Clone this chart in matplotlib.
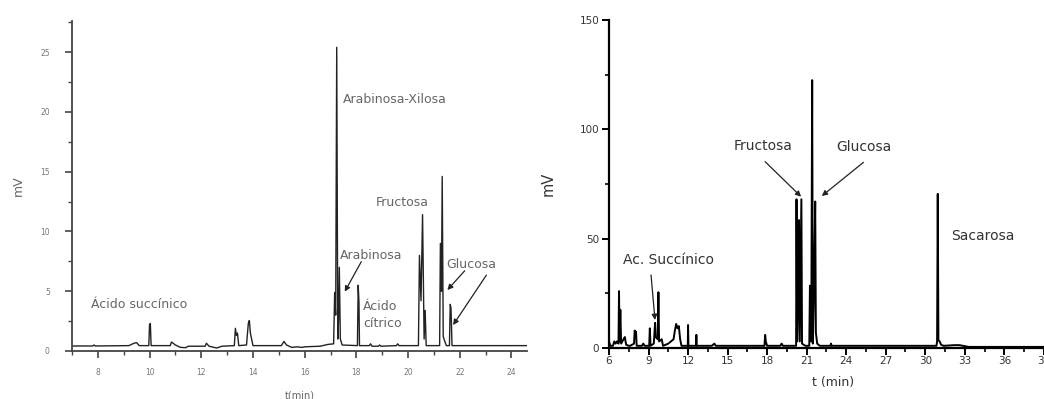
import matplotlib
matplotlib.use("Agg")
import matplotlib.pyplot as plt
from matplotlib.ticker import MultipleLocator

# ---------------- data ----------------
# Left chromatogram (t in min, signal in mV)
left_t = [7.0, 7.8, 7.85, 7.9, 9.2, 9.4, 9.5, 9.6, 9.97, 10.0, 10.03, 10.06,
          10.8, 10.85, 11.0, 11.2, 11.4, 11.5, 12.15, 12.2, 12.3, 12.6, 12.8,
          13.28, 13.32, 13.36, 13.4, 13.45, 13.75, 13.82, 13.86, 13.9, 14.0,
          15.1, 15.2, 15.3, 15.5, 15.7, 15.9, 16.0, 16.6, 16.9,
          17.12, 17.16, 17.2, 17.24, 17.28, 17.31, 17.34, 17.38, 17.45,
          18.04, 18.07, 18.1, 18.12, 18.5, 18.55, 18.6, 18.85, 18.9, 18.95,
          19.55, 19.6, 19.65, 20.4, 20.44, 20.5, 20.56, 20.62, 20.66, 20.7,
          21.22, 21.25, 21.29, 21.32, 21.36, 21.42, 21.48,
          21.6, 21.63, 21.66, 21.7, 24.6]
left_mv = [0.42, 0.42, 0.5, 0.42, 0.45, 0.65, 0.7, 0.45, 0.45, 2.2, 2.3, 0.45,
           0.45, 0.75, 0.5, 0.3, 0.28, 0.4, 0.4, 0.65, 0.4, 0.25, 0.4,
           0.45, 1.9, 1.3, 1.5, 0.45, 0.5, 2.3, 2.55, 1.5, 0.45,
           0.45, 0.8, 0.5, 0.3, 0.35, 0.3, 0.35, 0.4, 0.55,
           0.6, 4.9, 3.0, 25.4, 1.0, 2.6, 7.0, 1.0, 0.5,
           0.45, 5.5, 4.1, 0.45, 0.45, 0.6, 0.4, 0.4, 0.5, 0.4,
           0.45, 0.6, 0.45, 0.45, 8.0, 4.2, 11.4, 1.0, 3.4, 0.45,
           0.45, 9.0, 5.0, 14.6, 1.2, 0.8, 0.45,
           0.45, 3.9, 3.6, 0.45, 0.45]

# Right chromatogram
right_t = [6.0, 6.1, 6.3, 6.4, 6.5, 6.6, 6.72, 6.76, 6.8, 6.86, 6.92, 7.1, 7.2,
           7.3, 7.5, 7.6, 7.9, 7.95, 8.0, 8.05, 8.1, 8.5, 8.6, 8.7, 9.05, 9.1,
           9.15, 9.4, 9.5, 9.55, 9.7, 9.75, 9.8, 10.0, 10.1, 10.5, 10.9, 11.0,
           11.1, 11.2, 11.3, 11.4, 11.5, 11.98, 12.0, 12.03, 12.6, 12.63, 12.66,
           13.8, 14.0, 14.1, 17.8, 17.85, 17.9, 18.0, 19.0, 19.1, 19.2,
           20.2, 20.23, 20.28, 20.33, 20.42, 20.48, 20.6, 20.65, 20.9,
           21.2, 21.25, 21.35, 21.42, 21.47, 21.55, 21.65, 21.7, 21.8, 22.0,
           22.8, 22.85, 22.9, 30.85, 30.9, 30.95, 31.0, 31.1, 31.2, 31.4,
           32.2, 32.6, 33.3, 40.0]
right_mv = [3, 1, 1, 3, 2, 3, 2, 26, 3, 17.5, 2, 4, 5,
            1.5, 1, 1, 2, 8, 7, 7.5, 1, 1, 2, 1, 1, 9,
            1, 2, 11.5, 5, 4, 25.5, 3, 4, 1, 2, 4, 8,
            11, 9, 10, 4, 1, 1, 10.5, 1, 1, 6, 1,
            1, 2, 1, 1, 6, 3, 1, 1, 2, 1,
            1, 68, 3, 16, 58.5, 3, 68, 2, 1,
            1, 28.5, 3, 122.5, 2, 24, 67, 7, 2, 1,
            1, 2, 1, 1, 3, 70.5, 3.5, 3, 1.5, 1,
            1.3, 1.3, 0.5, 0.5]

# annotations: (text, x, y)
left_labels = [("Arabinosa-Xilosa", 17.49, 21.07),
               ("Fructosa", 18.74, 12.45),
               ("Arabinosa", 17.35, 8.0),
               ("Glucosa", 21.48, 7.2),
               ("Ácido\ncítrico", 18.26, 3.0),
               ("Ácido succínico", 7.74, 3.85)]
left_arrows = [((18.19, 7.47), (17.55, 4.96)),
               ((22.19, 6.71), (21.52, 5.1)),
               ((23.03, 6.35), (21.74, 2.17))]
right_labels = [("Fructosa", 15.44, 92.5),
                ("Glucosa", 23.24, 91.8),
                ("Sacarosa", 32.0, 51.4),
                ("Ac. Succínico", 7.09, 40.2)]
right_arrows = [((17.85, 85.2), (20.58, 69.2)),
                ((25.31, 84.9), (22.15, 69.5)),
                ((9.19, 33.4), (9.49, 12.8))]

# ---------------- figure ----------------
W, H = 1044, 399
fig = plt.figure(figsize=(W / 100, H / 100), dpi=100)

# ----- left panel -----
axL = fig.add_axes([72 / W, 1 - 351 / H, 455 / W, 330 / H])
axL.plot(left_t, left_mv, color="#222222", lw=1.0)
axL.set_xlim(7, 24.6)
axL.set_ylim(0, 27.6)
axL.xaxis.set_major_locator(MultipleLocator(2))
axL.xaxis.set_minor_locator(MultipleLocator(1))
axL.yaxis.set_major_locator(MultipleLocator(5))
axL.yaxis.set_minor_locator(MultipleLocator(2.5))
for s in ["top", "right"]:
    axL.spines[s].set_visible(False)
for s in ["left", "bottom"]:
    axL.spines[s].set_color("#444444")
    axL.spines[s].set_linewidth(1.3)
axL.tick_params(axis="both", which="major", direction="out", length=5,
                width=1.2, color="#444444", labelsize=5.5, labelcolor="#777777")
axL.tick_params(axis="both", which="minor", direction="out", length=3,
                width=1.0, color="#444444")
axL.tick_params(axis="y", which="major", pad=11)
axL.tick_params(axis="x", which="major", pad=7)
axL.set_ylabel("mV", fontsize=9, color="#666666", labelpad=11)
axL.set_xlabel("t(min)", fontsize=7, color="#666666", labelpad=10)
for txt, x, y in left_labels:
    axL.text(x, y, txt, fontsize=9, color="#666666", ha="left", va="center",
             linespacing=1.4)
for (xy0, xy1) in left_arrows:
    axL.annotate("", xy=xy1, xytext=xy0,
                 arrowprops=dict(arrowstyle="-|>", lw=0.9, color="#222222",
                                 mutation_scale=8, shrinkA=0, shrinkB=0))

# ----- right panel -----
axR = fig.add_axes([609 / W, 1 - 348 / H, 448 / W, 328 / H])
axR.plot(right_t, right_mv, color="black", lw=1.4)
axR.set_xlim(6, 40)
axR.set_ylim(0, 150)
axR.xaxis.set_major_locator(MultipleLocator(3))
axR.xaxis.set_minor_locator(MultipleLocator(1.5))
axR.yaxis.set_major_locator(MultipleLocator(50))
axR.yaxis.set_minor_locator(MultipleLocator(25))
for s in ["top", "right"]:
    axR.spines[s].set_visible(False)
for s in ["left", "bottom"]:
    axR.spines[s].set_color("black")
    axR.spines[s].set_linewidth(1.6)
axR.tick_params(axis="both", which="major", direction="out", length=5,
                width=1.4, color="black", labelsize=7.5, labelcolor="#333333")
axR.tick_params(axis="both", which="minor", direction="out", length=3,
                width=1.2, color="black")
axR.tick_params(axis="y", which="major", pad=2)
axR.tick_params(axis="x", which="major", pad=1)
axR.set_ylabel("mV", fontsize=10.5, color="#333333", labelpad=17)
axR.set_xlabel("t (min)", fontsize=9, color="#333333", labelpad=7)
for txt, x, y in right_labels:
    axR.text(x, y, txt, fontsize=10, color="#333333", ha="left", va="center")
for (xy0, xy1) in right_arrows:
    axR.annotate("", xy=xy1, xytext=xy0,
                 arrowprops=dict(arrowstyle="-|>", lw=0.9, color="#222222",
                                 mutation_scale=8, shrinkA=0, shrinkB=0))

fig.savefig("out.png", dpi=100)
